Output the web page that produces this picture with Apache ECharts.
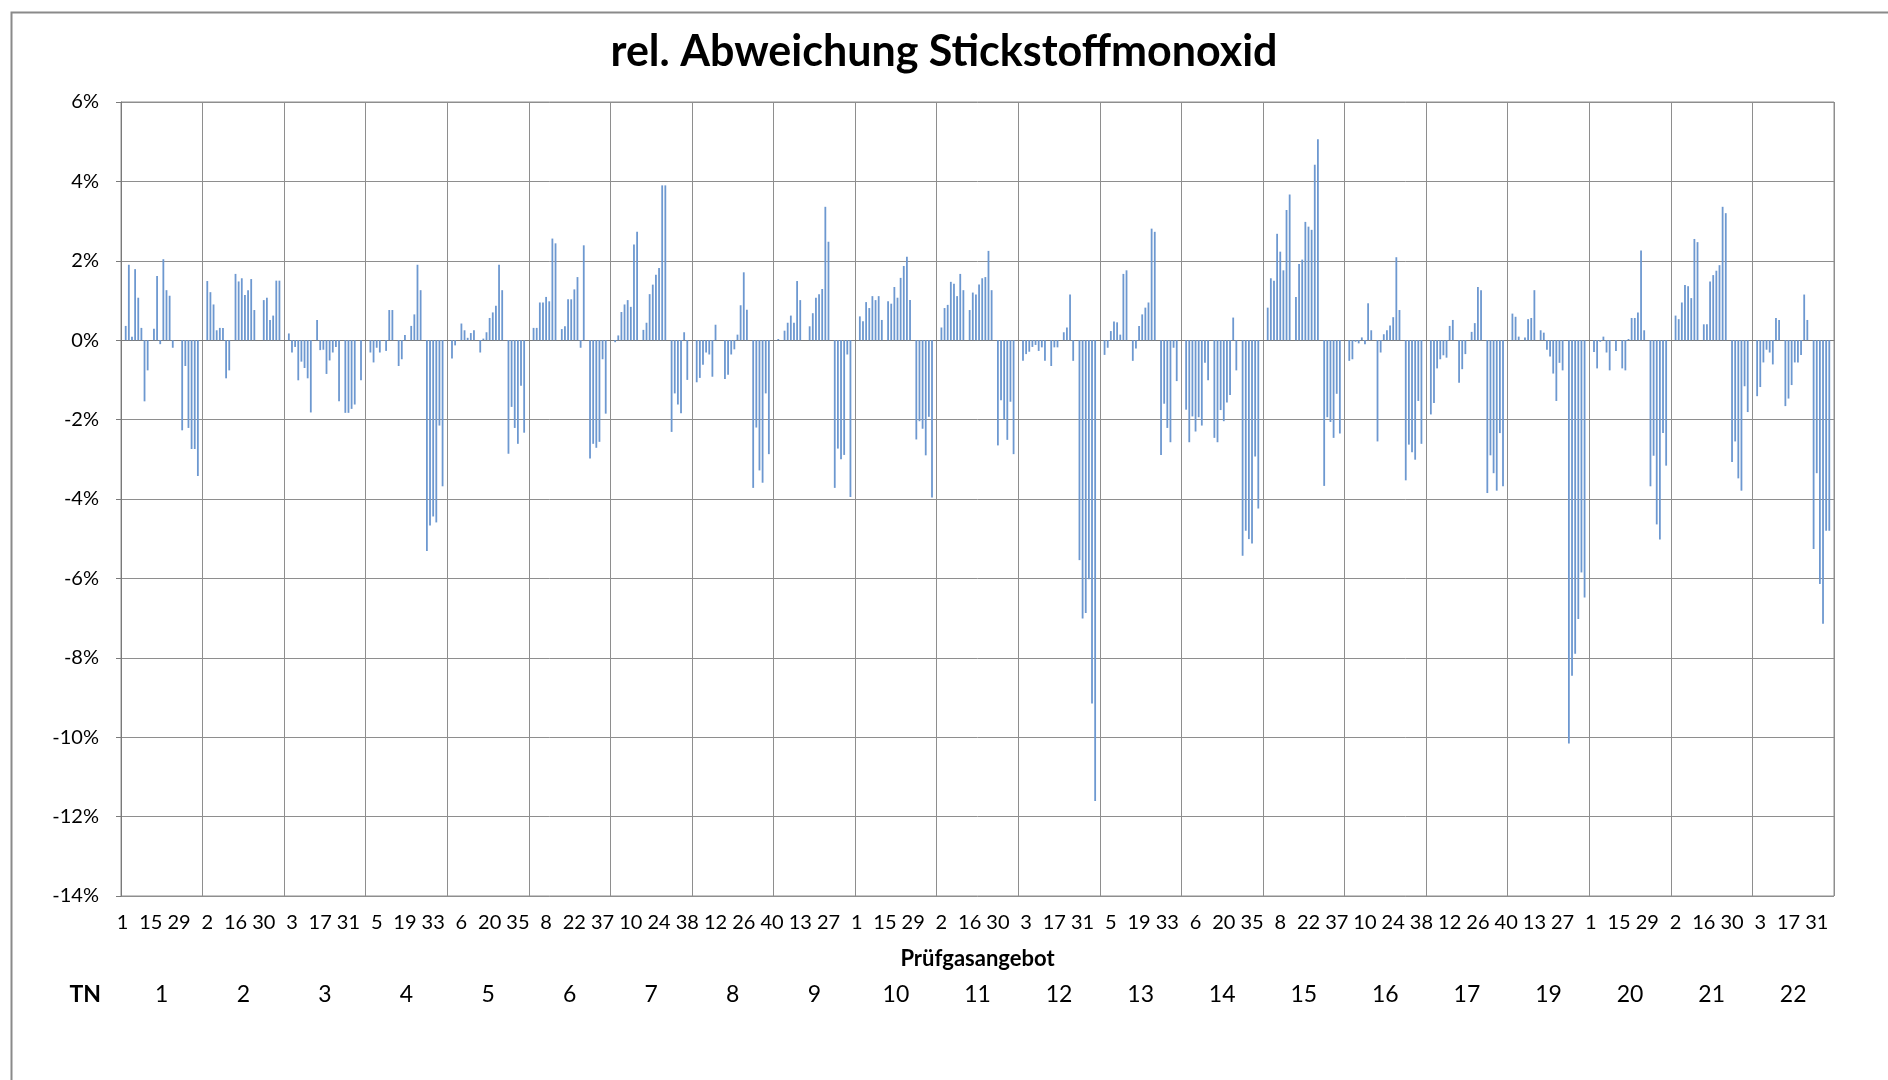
<!DOCTYPE html>
<html>
<head>
<meta charset="utf-8">
<title>rel. Abweichung Stickstoffmonoxid</title>
<script src="https://cdn.jsdelivr.net/npm/echarts@6/dist/echarts.min.js"></script>
<style>
  html, body { margin: 0; padding: 0; background: #fff; }
  #chart { width: 1888px; height: 1080px; }
</style>
</head>
<body>
<div id="chart"></div>
<script>
// rel. Abweichung in %, 26 Plätze je Teilnehmer (null = kein Wert)
var tn1  = [null, 0.36, 1.90, 0.09, 1.79, 1.07, 0.31, -1.54, -0.76, null, 0.29, 1.62, -0.10, 2.04, 1.26, 1.12, -0.19, null, null, -2.27, -0.65, -2.21, -2.74, -2.74, -3.42, null]
var tn2  = [null, 1.49, 1.21, 0.90, 0.25, 0.31, 0.31, -0.96, -0.76, null, 1.67, 1.48, 1.56, 1.14, 1.26, 1.54, 0.76, null, null, 1.01, 1.07, 0.51, 0.62, 1.50, 1.50, null]
var tn3  = [null, 0.17, -0.31, -0.17, -1.01, -0.54, -0.70, -0.96, -1.82, null, 0.51, -0.25, -0.24, -0.85, -0.51, -0.31, -0.17, -1.54, null, -1.83, -1.83, -1.73, -1.62, null, -1.01, null]
var tn4  = [null, -0.31, -0.56, -0.19, -0.31, null, -0.27, 0.76, 0.76, null, -0.65, -0.48, 0.13, null, 0.36, 0.65, 1.90, 1.26, null, -5.31, -4.67, -4.44, -4.59, -2.15, -3.68, null]
var tn5  = [null, -0.46, -0.13, null, 0.42, 0.25, 0.06, 0.18, 0.25, null, -0.31, 0.04, 0.20, 0.56, 0.70, 0.87, 1.90, 1.26, null, -2.86, -1.68, -2.21, -2.61, -1.15, -2.33, null]
var tn6  = [null, 0.31, 0.31, 0.95, 0.95, 1.09, 0.98, 2.56, 2.44, null, 0.28, 0.35, 1.03, 1.03, 1.28, 1.59, -0.19, 2.39, null, -2.98, -2.61, -2.71, -2.56, -0.48, -1.85, null]
var tn7  = [null, -0.05, 0.12, 0.71, 0.90, 1.01, 0.84, 2.41, 2.73, null, 0.26, 0.44, 1.16, 1.40, 1.65, 1.82, 3.90, 3.90, null, -2.31, -1.34, -1.62, -1.84, 0.20, -1.00, null]
var tn8  = [null, -1.06, -0.95, -0.62, -0.31, -0.36, -0.92, 0.39, null, null, -0.98, -0.87, -0.36, -0.23, 0.14, 0.88, 1.71, 0.77, null, -3.72, -2.20, -3.28, -3.59, -1.34, -2.87, null]
var tn9  = [null, 0.03, null, 0.24, 0.44, 0.62, 0.44, 1.49, 1.01, null, null, 0.35, 0.68, 1.07, 1.16, 1.29, 3.36, 2.48, null, -3.72, -2.73, -3.00, -2.89, -0.36, -3.95, null]
var tn10 = [null, 0.60, 0.48, 0.96, 0.81, 1.11, 1.01, 1.11, 0.51, null, 0.98, 0.92, 1.34, 1.07, 1.57, 1.87, 2.10, 1.01, null, -2.50, -2.04, -2.23, -2.90, -1.93, -3.96, null]
var tn11 = [null, 0.32, 0.81, 0.89, 1.47, 1.42, 1.11, 1.67, 1.26, null, 0.76, 1.20, 1.15, 1.40, 1.56, 1.59, 2.25, 1.26, null, -2.65, -1.51, -2.00, -2.51, -1.55, -2.87, null]
var tn12 = [null, -0.52, -0.35, -0.29, -0.17, -0.12, -0.27, -0.18, -0.52, null, -0.65, -0.18, -0.18, null, 0.20, 0.32, 1.15, -0.52, null, -5.54, -7.01, -6.87, -6.02, -9.15, -11.61, null]
var tn13 = [null, -0.37, -0.19, 0.23, 0.47, 0.45, 0.14, 1.67, 1.76, null, -0.52, -0.21, 0.36, 0.65, 0.82, 0.95, 2.81, 2.73, null, -2.89, -1.60, -2.21, -2.57, -0.19, -1.03, null]
var tn14 = [null, -1.75, -2.57, -1.92, -2.30, -1.94, -2.15, -0.57, -1.01, null, -2.46, -2.57, -1.76, -2.04, -1.57, -1.38, 0.57, -0.76, null, -5.43, -4.80, -5.01, -5.12, -2.93, -4.24, null]
var tn15 = [null, 0.82, 1.56, 1.50, 2.68, 2.23, 1.76, 3.28, 3.67, null, 1.09, 1.92, 2.03, 2.98, 2.86, 2.78, 4.42, 5.06, null, -3.67, -1.94, -2.06, -2.46, -1.35, -2.35, null]
var tn16 = [null, -0.52, -0.48, -0.04, -0.08, 0.07, -0.10, 0.93, 0.25, null, -2.55, -0.31, 0.15, 0.25, 0.37, 0.58, 2.09, 0.76, null, -3.53, -2.63, -2.82, -3.01, -1.53, -2.61, null]
var tn17 = [null, -1.87, -1.58, -0.71, -0.48, -0.38, -0.44, 0.36, 0.51, null, -1.07, -0.73, -0.35, null, 0.21, 0.43, 1.34, 1.26, null, -3.85, -2.90, -3.35, -3.79, -2.34, -3.68, null]
var tn19 = [null, 0.67, 0.59, 0.09, null, 0.07, 0.53, 0.56, 1.26, null, 0.25, 0.19, -0.24, -0.41, -0.84, -1.53, -0.57, -0.76, null, -10.16, -8.45, -7.90, -7.02, -5.85, -6.48, null]
var tn20 = [null, -0.30, -0.71, -0.04, 0.09, -0.31, -0.76, null, -0.27, null, -0.71, -0.76, 0.03, 0.56, 0.56, 0.70, 2.26, 0.25, null, -3.68, -2.91, -4.64, -5.02, -2.34, -3.16, null]
var tn21 = [null, 0.62, 0.53, 0.95, 1.39, 1.36, 1.06, 2.55, 2.47, null, 0.40, 0.40, 1.48, 1.64, 1.75, 1.89, 3.36, 3.20, null, -3.07, -2.55, -3.48, -3.79, -1.16, -1.81, null]
var tn22 = [null, -1.41, -1.18, -0.56, -0.24, -0.31, -0.61, 0.56, 0.51, null, -1.66, -1.47, -1.13, -0.56, -0.56, -0.37, 1.15, 0.51, null, -5.26, -3.35, -6.14, -7.14, -4.80, -4.80, null]

var tnNames = ['1', '2', '3', '4', '5', '6', '7', '8', '9', '10', '11', '12', '13', '14', '15', '16', '17', '19', '20', '21', '22']
var tnGroups = [tn1, tn2, tn3, tn4, tn5, tn6, tn7, tn8, tn9, tn10, tn11, tn12, tn13, tn14, tn15, tn16, tn17, tn19, tn20, tn21, tn22]

// sichtbare Beschriftungen der Prüfgasangebote (jede 9. Kategorie)
var tickLabels = [
  '1', '15', '29', '2', '16', '30', '3', '17', '31', '5', '19', '33', '6', '20', '35', '8', '22', '37', '10', '24', '38', '12', '26', '40', '13', '27',
  '1', '15', '29', '2', '16', '30', '3', '17', '31', '5', '19', '33', '6', '20', '35', '8', '22', '37', '10', '24', '38', '12', '26', '40', '13', '27',
  '1', '15', '29', '2', '16', '30', '3', '17', '31'
]

var values = []
tnGroups.forEach(function(g) { values = values.concat(g) })
var categories = values.map(function(v, i) { return String(i) })

var font = 'Lato, "Open Sans", sans-serif'
var gridColor = '#8e8e8e'

var chart = echarts.init(document.getElementById('chart'))
chart.setOption({
  animation: false,
  backgroundColor: '#fff',
  title: {
    text: 'rel. Abweichung Stickstoffmonoxid',
    left: 'center',
    top: 26,
    textStyle: { fontFamily: font, fontSize: 43, fontWeight: 'bold', color: '#000' }
  },
  graphic: [{
    type: 'rect',
    left: 9,
    top: 10,
    shape: { width: 1900, height: 1100 },
    style: { fill: 'none', stroke: '#8a8a8a', lineWidth: 2 },
    silent: true
  }],
  grid: {
    left: 121,
    right: 54,
    top: 102,
    bottom: 184,
    outerBoundsMode: 'none',
    show: true,
    borderColor: gridColor,
    borderWidth: 1
  },
  xAxis: [{
    type: 'category',
    data: categories,
    boundaryGap: true,
    name: 'Prüfgasangebot',
    nameLocation: 'middle',
    nameGap: 52,
    nameTextStyle: { fontFamily: font, fontSize: 22, fontWeight: 'bold', color: '#000' },
    axisLine: { show: true, lineStyle: { color: '#7a7a7a', width: 1 } },
    axisTick: { show: false },
    axisLabel: {
      interval: 8,
      margin: 17,
      fontFamily: font,
      fontSize: 20,
      color: '#000',
      formatter: function(v, i) { return tickLabels[Math.round(i / 9)] }
    },
    splitLine: { show: true, interval: 25, lineStyle: { color: gridColor, width: 1 } }
  }, {
    type: 'category',
    data: tnNames,
    position: 'bottom',
    offset: 87,
    name: 'TN',
    nameLocation: 'start',
    nameGap: 20,
    nameTextStyle: { fontFamily: font, fontSize: 23, fontWeight: 'bold', color: '#000', verticalAlign: 'top' },
    axisLine: { show: false },
    axisTick: { show: false },
    splitLine: { show: false },
    axisLabel: { interval: 0, margin: 0, fontFamily: font, fontSize: 23, color: '#000' }
  }],
  yAxis: {
    type: 'value',
    min: -14,
    max: 6,
    interval: 2,
    axisLine: { show: true, lineStyle: { color: '#7a7a7a', width: 1 } },
    axisTick: { show: true, length: 5, lineStyle: { color: '#7a7a7a' } },
    axisLabel: {
      margin: 22,
      fontFamily: font,
      fontSize: 20,
      color: '#000',
      formatter: function(v) { return v + '%' }
    },
    splitLine: { show: true, lineStyle: { color: gridColor, width: 1 } }
  },
  series: [{
    type: 'bar',
    xAxisIndex: 0,
    data: values,
    barWidth: 1.8,
    itemStyle: { color: '#6d98d0' }
  }]
})
</script>
</body>
</html>
